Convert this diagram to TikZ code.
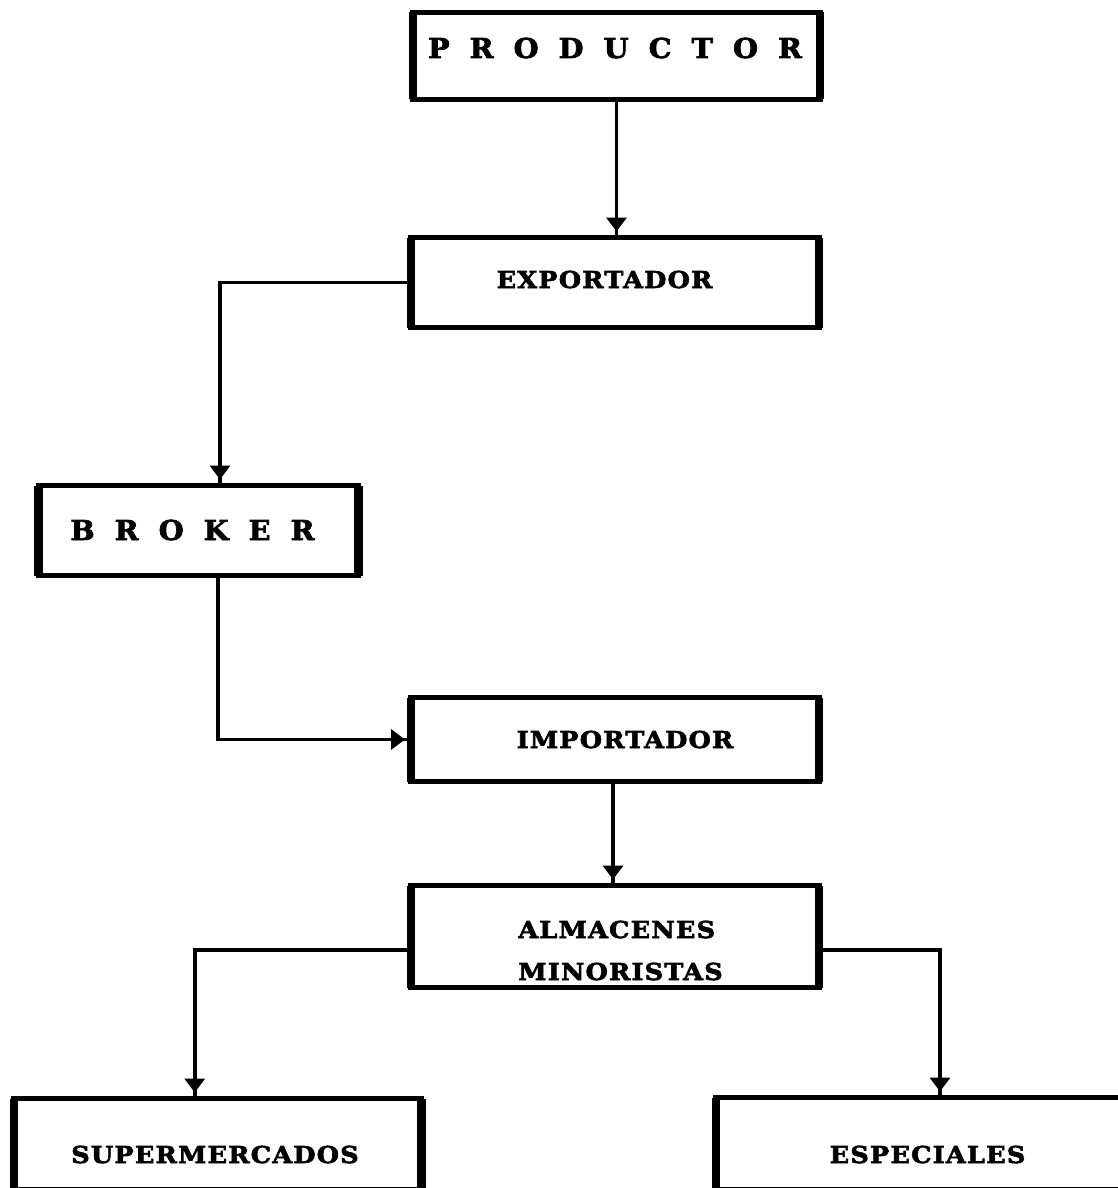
\documentclass[tikz,border=0pt]{standalone}
\usepackage{fontspec}
\setmainfont{DejaVu Serif}
\newfontfamily\boxfont{DejaVu Serif}[LetterSpace=5, FakeStretch=1.1, FakeBold=2.5]
\newfontfamily\widefont{DejaVu Serif}[FakeStretch=1.05, FakeBold=2.5]
\usetikzlibrary{arrows.meta,decorations.markings}
% #1 = twice the x offset, #2 = raise amount, #3 = text
\newcommand\bt[3]{\makebox[0pt][c]{\hspace{#1}\raisebox{#2}[0pt][0pt]{#3}}}
\newcommand\gp{\hspace{20pt}}
\begin{document}
\begin{tikzpicture}[x=1pt,y=-1pt,
  box/.style={draw, line width=5.5pt, outer sep=0pt, inner sep=0pt,
    font=\boxfont\bfseries\fontsize{23.3}{42}\selectfont},
  wide/.style={font=\widefont\bfseries\fontsize{27.4}{32}\selectfont},
  conn/.style={line width=3.5pt},
  arr/.style={conn, postaction={decorate},
    decoration={markings, mark=at position -6pt with {\arrow{Triangle[width=20pt,length=14pt]}}}},
  side/.style={line width=8.5pt}]
\useasboundingbox (0,0) rectangle (1117,1188);
\fill[white] (0,0) rectangle (1117,1188);

\node[box, wide, minimum width=407pt, minimum height=87pt] (prod) at (616.5,56)
  {\bt{-3pt}{-2pt}{P\gp R\gp O\gp D\gp U\gp C\gp T\gp O\gp R}};
\node[box, minimum width=408pt, minimum height=90pt] (exp) at (615,282.5)
  {\bt{-21pt}{-5.5pt}{EXPORTADOR}};
\node[box, wide, minimum width=320pt, minimum height=90pt] (broker) at (198.5,530.5)
  {\bt{-12pt}{-9.5pt}{B\gp R\gp O\gp K\gp E\gp R}};
\node[box, minimum width=408pt, minimum height=84pt] (imp) at (615,739.5)
  {\bt{20pt}{-8.5pt}{IMPORTADOR}};
\node[box, minimum width=408pt, minimum height=102pt] (alm) at (615,936.5)
  {\bt{11pt}{-1.5pt}{\begin{tabular}[t]{@{}l@{}}ALMACENES\\MINORISTAS\end{tabular}}};
\node[box, minimum width=407.5pt, minimum height=91.5pt] (super) at (217.75,1144.25)
  {\bt{-5.5pt}{-18.75pt}{SUPERMERCADOS}};
\node[box, minimum width=423pt, minimum height=92.5pt] (esp) at (927.5,1143.75)
  {\bt{0pt}{-19.25pt}{ESPECIALES}};

\foreach \n in {prod,exp,broker,imp,alm,super,esp}
  \draw[side] (\n.north west) -- (\n.south west) (\n.north east) -- (\n.south east);

\draw[arr] (prod.south) -- (prod.south |- exp.north);
\draw[arr] (exp.west) -| ([xshift=21.5pt]broker.north);
\draw[arr] ([xshift=19.5pt]broker.south) |- (imp.west);
\draw[arr] ([xshift=-2pt]imp.south) -- ([xshift=-2pt]alm.north);
\draw[arr] ([yshift=-13.5pt]alm.west) -| ([xshift=-23pt]super.north);
\draw[arr] ([yshift=-13.5pt]alm.east) -| ([xshift=12.5pt]esp.north);
\end{tikzpicture}
\end{document}
